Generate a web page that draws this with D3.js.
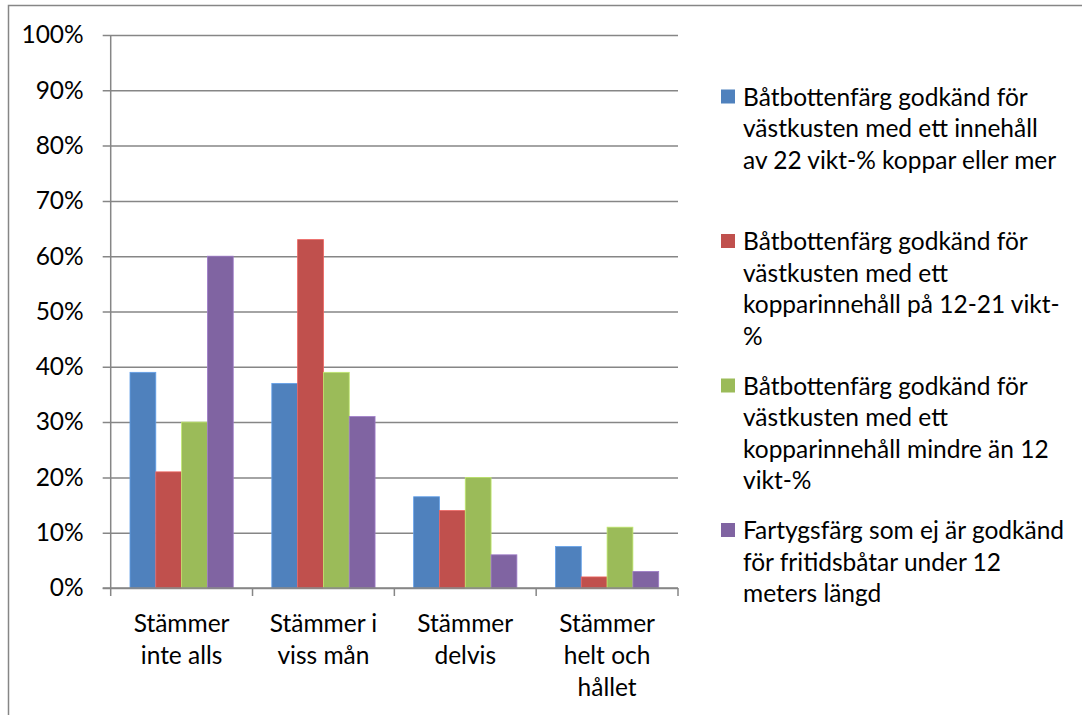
<!DOCTYPE html>
<html>
<head>
<meta charset="utf-8">
<script src="https://cdn.jsdelivr.net/npm/d3@7"></script>
<style>
  body { margin: 0; background: #fff; }
  text { font-family: Lato, "Open Sans", sans-serif; fill: #000; }
</style>
</head>
<body>
<div id="chart"></div>
<script>
"use strict";

// categories, split into the lines they wrap to under the axis
const categories = ["Stämmer inte alls", "Stämmer i viss mån", "Stämmer delvis", "Stämmer helt och hållet"];
const categoryLines = [
  ["Stämmer", "inte alls"],
  ["Stämmer i", "viss mån"],
  ["Stämmer", "delvis"],
  ["Stämmer", "helt och", "hållet"]
];

const seriesNames = ["copper22", "copper12to21", "copperUnder12", "shipPaint"];
const legendLines = [
  ["Båtbottenfärg godkänd för", "västkusten med ett innehåll", "av 22 vikt-% koppar eller mer"],
  ["Båtbottenfärg godkänd för", "västkusten med ett", "kopparinnehåll på 12-21 vikt-", "%"],
  ["Båtbottenfärg godkänd för", "västkusten med ett", "kopparinnehåll mindre än 12", "vikt-%"],
  ["Fartygsfärg som ej är godkänd", "för fritidsbåtar under 12", "meters längd"]
];
const colors = ["#4F81BD", "#C0504D", "#9BBB59", "#8064A2"];

// percent values per series, in category order
const copper22 = [39, 37, 16.5, 7.5];
const copper12to21 = [21, 63, 14, 2];
const copperUnder12 = [30, 39, 20, 11];
const shipPaint = [60, 31, 6, 3];
const seriesValues = [copper22, copper12to21, copperUnder12, shipPaint];

const yTicks = [0, 10, 20, 30, 40, 50, 60, 70, 80, 90, 100];

const width = 1082, height = 715;
const plot = { left: 110.7, right: 678, top: 35, bottom: 588 };
const fontSize = 24.5;

const svg = d3.select("#chart")
  .append("svg")
  .attr("width", width)
  .attr("height", height);

// outer chart frame (only top and left edges are inside the picture)
svg.append("path")
  .attr("d", `M8.5,${height} L8.5,5.5 L${width},5.5`)
  .attr("fill", "none")
  .attr("stroke", "#868686")
  .attr("stroke-width", 1.5);

const y = d3.scaleLinear()
  .domain([0, 100])
  .range([plot.bottom, plot.top]);

const x0 = d3.scaleBand()
  .domain(categories)
  .range([plot.left, plot.right]);

const gap = x0.bandwidth() * 0.136;
const x1 = d3.scaleBand()
  .domain(seriesNames)
  .range([gap, x0.bandwidth() - gap]);

// gridlines + y labels
const yAxis = d3.axisLeft(y)
  .tickValues(yTicks)
  .tickSize(-(plot.right - plot.left))
  .tickFormat(d => d + "%");

const gy = svg.append("g")
  .attr("transform", `translate(${plot.left},0)`)
  .call(yAxis);
gy.select(".domain").remove();
gy.selectAll(".tick line")
  .attr("x1", -8)
  .attr("stroke", "#868686")
  .attr("stroke-width", 1.5);
gy.selectAll(".tick text")
  .attr("x", -27)
  .attr("font-size", fontSize)
  .attr("fill", "#000");

// y axis line
svg.append("line")
  .attr("x1", plot.left).attr("x2", plot.left)
  .attr("y1", plot.top).attr("y2", plot.bottom)
  .attr("stroke", "#868686")
  .attr("stroke-width", 1.5);

// bars
const groups = svg.append("g")
  .selectAll("g")
  .data(categories)
  .join("g")
  .attr("transform", d => `translate(${x0(d)},0)`);

groups.selectAll("rect")
  .data((d, ci) => seriesNames.map((s, si) => ({ s, si, v: seriesValues[si][ci] })))
  .join("rect")
  .attr("x", d => x1(d.s))
  .attr("y", d => y(d.v))
  .attr("width", x1.bandwidth())
  .attr("height", d => y(0) - y(d.v))
  .attr("fill", d => colors[d.si])
  .attr("stroke", d => d3.color(colors[d.si]).brighter(0.6))
  .attr("stroke-width", 0.8);

// x axis
const xAxis = d3.axisBottom(x0).tickSize(0).tickFormat("");
const gx = svg.append("g")
  .attr("transform", `translate(0,${plot.bottom})`)
  .call(xAxis);
gx.select(".domain")
  .attr("d", `M${plot.left - 8},0 H${plot.right}`)
  .attr("stroke", "#868686")
  .attr("stroke-width", 1.5);

const boundaries = categories.map(c => x0(c)).concat([plot.right]);
svg.append("g")
  .selectAll("line")
  .data(boundaries)
  .join("line")
  .attr("x1", d => d).attr("x2", d => d)
  .attr("y1", plot.bottom).attr("y2", plot.bottom + 8)
  .attr("stroke", "#868686")
  .attr("stroke-width", 1.5);

// category labels
svg.append("g")
  .selectAll("text")
  .data(categories)
  .join("text")
  .attr("text-anchor", "middle")
  .attr("font-size", fontSize)
  .each(function (d, i) {
    const cx = x0(d) + x0.bandwidth() / 2;
    d3.select(this).selectAll("tspan")
      .data(categoryLines[i])
      .join("tspan")
      .attr("x", cx)
      .attr("y", (t, li) => 623 + li * 32)
      .attr("dy", "0.35em")
      .text(t => t);
  });

// legend
const legend = svg.append("g");
const entry = legend.selectAll("g")
  .data(legendLines)
  .join("g")
  .attr("transform", (d, i) => `translate(721,${97 + i * 144.5})`);

entry.append("rect")
  .attr("x", 0)
  .attr("y", -7.5)
  .attr("width", 14)
  .attr("height", 14)
  .attr("fill", (d, i) => colors[i]);

entry.append("text")
  .attr("font-size", fontSize)
  .selectAll("tspan")
  .data(d => d)
  .join("tspan")
  .attr("x", 22)
  .attr("y", (t, li) => li * 31.5)
  .attr("dy", "0.35em")
  .text(t => t);
</script>
</body>
</html>
